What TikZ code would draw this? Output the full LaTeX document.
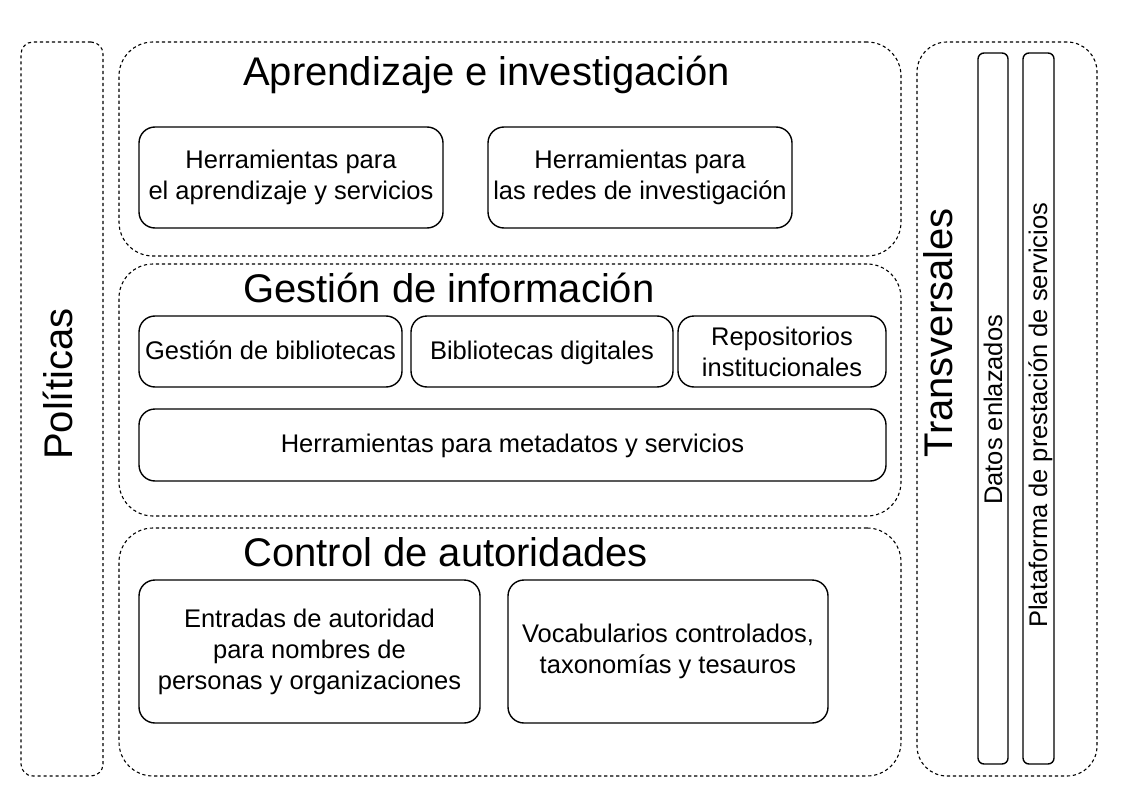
\documentclass[tikz,border=0pt]{standalone}
\usepackage{fontspec}
\setmainfont{Liberation Sans}
\begin{document}
\begin{tikzpicture}[x=1pt, y=-1pt,
    zone/.style={draw, line width=1.1pt, dash pattern=on 3.2pt off 2.8pt, inner sep=0pt},
    block/.style={draw, line width=1.4pt, rounded corners=16pt, inner sep=0pt, align=center,
        font=\fontsize{25.5}{31}\selectfont},
    oneline/.style={text height=20pt, text depth=5pt},
    bar/.style={draw, line width=1.4pt, rounded corners=6pt, inner sep=0pt},
    title/.style={anchor=base west, inner sep=0pt, font=\fontsize{40}{48}\selectfont},
    side/.style={rotate=90, anchor=base west, inner sep=0pt}]
 \useasboundingbox (0,0) rectangle (1123,794);
 % zonas
 \node[zone, rounded corners=12pt, minimum width=82pt, minimum height=734pt] (politicas) at (62,409) {};
 \node[zone, rounded corners=34pt, minimum width=782pt, minimum height=214pt] (aprendizaje) at (510,149) {};
 \node[zone, rounded corners=34pt, minimum width=782pt, minimum height=252pt] (gestion) at (510,390) {};
 \node[zone, rounded corners=34pt, minimum width=782pt, minimum height=248pt] (control) at (510,652) {};
 \node[zone, rounded corners=30pt, minimum width=180pt, minimum height=734pt] (transversales) at (1007,409) {};
 \node[bar, minimum width=30pt, minimum height=711pt] (datos) at (993,408.5) {};
 \node[bar, minimum width=31pt, minimum height=711pt] (plataforma) at (1038.5,408.5) {};
 % titulos
 \node[title] (tapr) at (243,86) {Aprendizaje e investigación};
 \node[title] (tges) at (243,302) {Gestión de información};
 \node[title] (tcon) at (243,566) {Control de autoridades};
 \node[side, font=\fontsize{40}{48}\selectfont] (tpol) at (72,460) {Políticas};
 \node[side, font=\fontsize{40}{48}\selectfont] (ttra) at (952,458) {Transversales};
 \node[side, font=\fontsize{25.5}{30}\selectfont] (tdat) at (1002,505) {Datos enlazados};
 \node[side, font=\fontsize{25.5}{30}\selectfont] (tpla) at (1047,628) {Plataforma de prestación de servicios};
 % bloques
 \node[block, minimum width=304pt, minimum height=101pt] (herrapr) at (291,177.5) {Herramientas para\\el aprendizaje y servicios};
 \node[block, minimum width=304pt, minimum height=101pt] (herrred) at (640,177.5) {Herramientas para\\las redes de investigación};
 \node[block, oneline, minimum width=263pt, minimum height=71pt] (bibl) at (270.5,351.5) {Gestión de bibliotecas};
 \node[block, oneline, minimum width=262pt, minimum height=71pt] (digi) at (542,351.5) {Bibliotecas digitales};
 \node[block, minimum width=208pt, minimum height=71pt] (repo) at (782,351.5) {Repositorios\\institucionales};
 \node[block, oneline, minimum width=747pt, minimum height=72pt] (meta) at (512.5,445) {Herramientas para metadatos y servicios};
 \node[block, minimum width=341pt, minimum height=143pt] (entr) at (309.5,651.5) {Entradas de autoridad\\para nombres de\\personas y organizaciones};
 \node[block, minimum width=320pt, minimum height=143pt] (voca) at (668,651.5) {Vocabularios controlados,\\taxonomías y tesauros};
\end{tikzpicture}
\end{document}
